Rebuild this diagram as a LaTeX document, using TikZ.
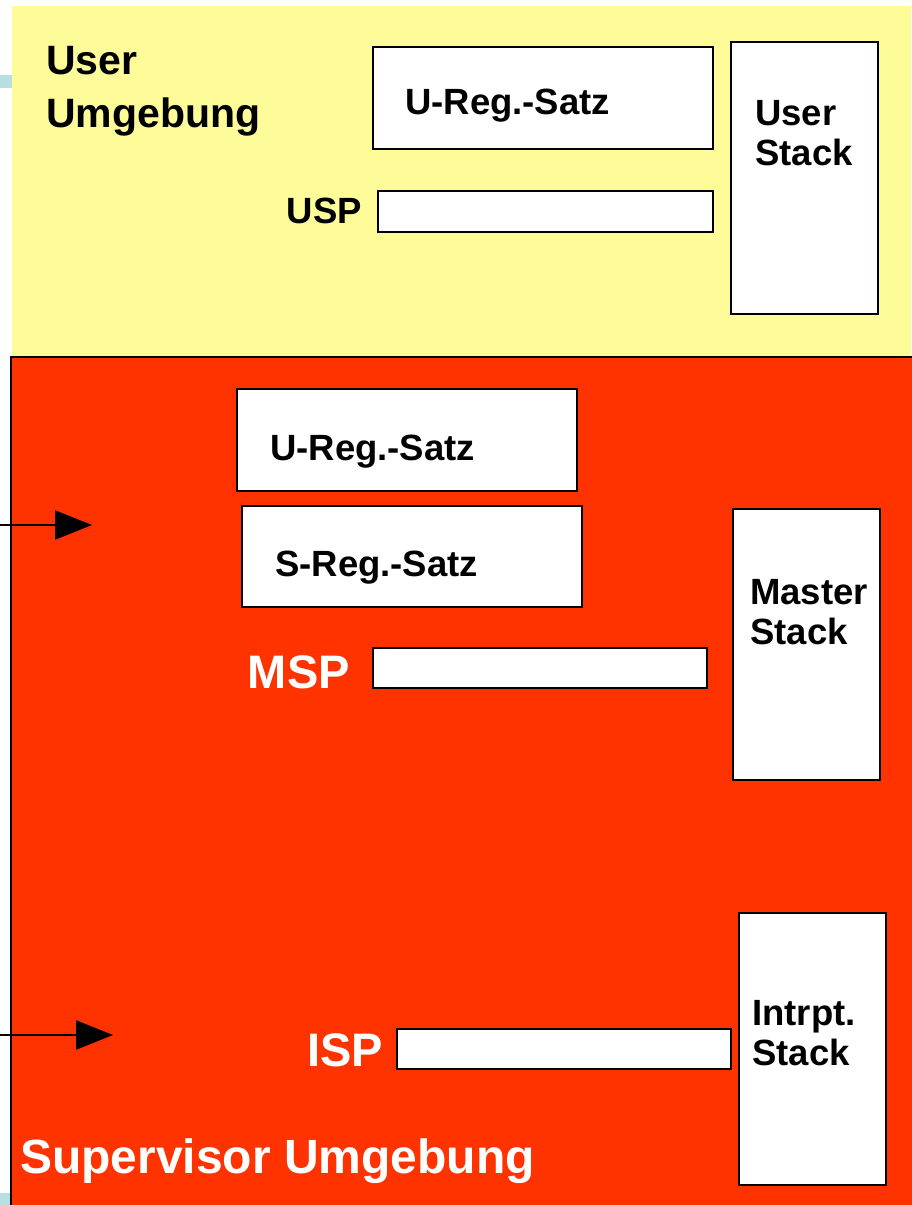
\documentclass[tikz,border=0pt]{standalone}
\usepackage{fontspec}
\setmainfont{Liberation Sans}
\usetikzlibrary{
    arrows.meta
}
\definecolor{userfarbe}{RGB}{253,252,153}
\definecolor{superfarbe}{RGB}{255,51,0}
\definecolor{randblau}{RGB}{184,222,226}
\tikzset{
    >={Triangle[length=37pt,width=29pt]},
    kasten/.style={
        draw,
        line width=2.5pt,
        fill=white,
        inner sep=0pt
    },
    txt/.style={
        inner sep=0pt,
        anchor=base west,
        align=left,
        font=\fontsize{36.5}{40}\selectfont\bfseries
    },
    wtxt/.style={
        inner sep=0pt,
        anchor=base east,
        text=white,
        font=\fontsize{47}{50}\selectfont\bfseries
    }
}

\begin{document}
\begin{tikzpicture}[
    x=1pt,
    y=-1pt
]
    \useasboundingbox (0,0) rectangle (911,1205);

    % Bereiche
    \fill[randblau] (0,75) rectangle (12,88);
    \fill[randblau] (0,1193) rectangle (10,1205);
    \fill[userfarbe] (12,6) rectangle (911,356);
    \draw[fill=superfarbe, line width=2.5pt] (11,357) rectangle (925,1220);

    % Kaesten
    \node[kasten, minimum width=340pt, minimum height=102pt] (uregu) at (543,98)     {};
    \node[kasten, minimum width=335pt, minimum height=41pt]  (uspk)  at (545.5,211.5) {};
    \node[kasten, minimum width=147pt, minimum height=272pt] (ustack) at (804.5,178) {};

    \node[kasten, minimum width=340pt, minimum height=102pt] (uregs) at (407,440)    {};
    \node[kasten, minimum width=340pt, minimum height=101pt] (sregs) at (412,556.5)  {};
    \node[kasten, minimum width=334pt, minimum height=40pt]  (mspk)  at (540,668)    {};
    \node[kasten, minimum width=147pt, minimum height=271pt] (mstack) at (806.5,644.5) {};

    \node[kasten, minimum width=334pt, minimum height=40pt]  (ispk)  at (564,1049)   {};
    \node[kasten, minimum width=147pt, minimum height=272pt] (istack) at (812.5,1049) {};

    % Beschriftungen (base = letzte Zeile)
    \node[txt, font=\fontsize{41}{53}\selectfont\bfseries] (ubereich) at (46,127) {User\\Umgebung};
    \node[txt] (uregut)  at (405,114) {U-Reg.-Satz};
    \node[txt, anchor=base east] (usp) at (362,223) {USP};
    \node[txt] (ustackt) at (755,165) {User\\Stack};

    \node[txt] (uregst)  at (270,460) {U-Reg.-Satz};
    \node[txt] (sregt)   at (275,576) {S-Reg.-Satz};
    \node[wtxt] (msp)    at (350,688) {MSP};
    \node[txt] (mstackt) at (750,644) {Master\\Stack};

    \node[wtxt] (isp)    at (383,1066) {ISP};
    \node[txt] (istackt) at (752,1065) {Intrpt.\\Stack};
    \node[wtxt, anchor=base west, font=\fontsize{48}{50}\selectfont\bfseries] (sbereich) at (20,1173) {Supervisor Umgebung};

    % Pfeile
    \coordinate (e1) at (0,525);
    \coordinate (p1) at (92,525);
    \coordinate (e2) at (0,1035);
    \coordinate (p2) at (113,1035);
    \draw[->, line width=2pt] (e1) -- (p1);
    \draw[->, line width=2pt] (e2) -- (p2);

\end{tikzpicture}
\end{document}
